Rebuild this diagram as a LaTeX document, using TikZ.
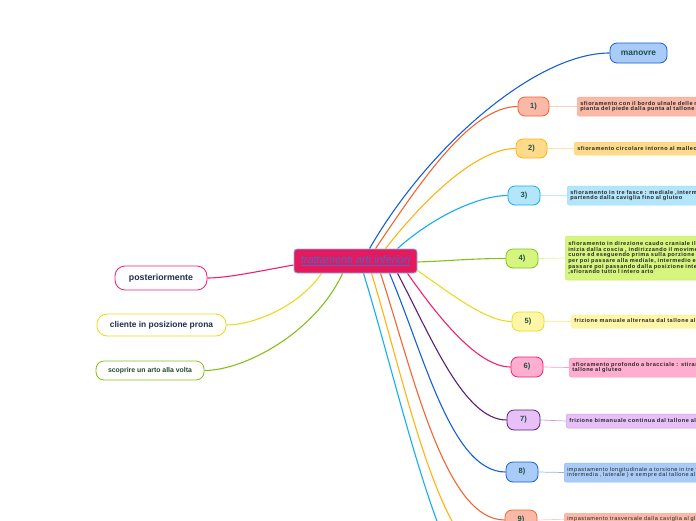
\documentclass[tikz,border=0pt]{standalone}
\usepackage{fontspec}
\setmainfont{Liberation Sans}
\newfontfamily\detfont[LetterSpace=9]{Liberation Sans}
\usetikzlibrary{backgrounds}
\definecolor{cfill}{HTML}{E5195E}
\definecolor{cbord}{HTML}{7FB2E5}
\definecolor{ctext}{HTML}{4668CC}
\definecolor{numtxt}{HTML}{1B4F4A}
\definecolor{bOrange}{HTML}{F26430}
\definecolor{bGold}{HTML}{FFB310}
\definecolor{bCyan}{HTML}{12AEEF}
\definecolor{bLime}{HTML}{84C118}
\definecolor{bYellow}{HTML}{EED81E}
\definecolor{bPink}{HTML}{EE1F74}
\definecolor{bPurple}{HTML}{5A1F78}
\definecolor{bBlue}{HTML}{1560D4}
\definecolor{fSalmon}{HTML}{FAB8A6}
\definecolor{fGold}{HTML}{FFDA8A}
\definecolor{fCyan}{HTML}{B3E6FB}
\definecolor{fLime}{HTML}{D6F57E}
\definecolor{fYellow}{HTML}{FFF6A8}
\definecolor{fPink}{HTML}{FFAED0}
\definecolor{fPurple}{HTML}{E8C0F8}
\definecolor{fBlue}{HTML}{A8CBF8}
\definecolor{navy}{HTML}{1F2D50}
\definecolor{dgreen}{HTML}{1E4A2E}
\tikzset{
  numbox/.style={draw, line width=0.8pt, rounded corners=7pt, minimum width=32pt,
    minimum height=19pt, inner sep=0pt, text=numtxt,
    font=\fontsize{7.5}{8}\selectfont\bfseries},
  detbox/.style={draw, line width=0.5pt, rounded corners=2pt, anchor=west, align=left,
    inner xsep=3pt, inner ysep=1.2pt, text width=220pt, text=black!85,
    font=\detfont\fontsize{5.6}{5.6}\selectfont\bfseries},
  leftbox/.style={draw, fill=white, line width=0.8pt, rounded corners=10pt, inner sep=0pt,
    font=\fontsize{7.5}{8}\selectfont\bfseries, text=navy},
  branch/.style={line width=1.1pt, in=180, in looseness=0.6},
  twig/.style={line width=0.7pt},
}
\begin{document}
\begin{tikzpicture}[x=1pt,y=-1pt]
\useasboundingbox (0,0) rectangle (696,520);

% central
\node[draw=cbord, fill=cfill, line width=0.9pt, rounded corners=3pt, minimum width=123pt,
  minimum height=24pt, inner sep=0pt, font=\fontsize{11}{12}\selectfont\itshape, text=ctext]
  (c) at (355.5,261) {\underline{trattamenti arti inferiori}};

% left nodes
\node[leftbox, draw=bPink, minimum width=92pt, minimum height=24pt, font=\fontsize{8.8}{9}\selectfont\bfseries] (post) at (161,278) {posteriormente};
\node[leftbox, draw=bYellow, minimum width=129pt, minimum height=22pt, font=\fontsize{8.4}{9}\selectfont\bfseries] (prona) at (161.5,325) {cliente in posizione prona};
\node[leftbox, draw=bLime, minimum width=108pt, minimum height=19pt, rounded corners=8pt, text=dgreen,
  font=\fontsize{6.9}{7}\selectfont\bfseries] (scop) at (150,370.5) {scoprire un arto alla volta};

% right nodes
\node[numbox, draw=bBlue, fill=fBlue, minimum width=57pt, minimum height=20pt, font=\fontsize{8.4}{9}\selectfont\bfseries] (man) at (638.5,53) {manovre};
\node[numbox, draw=bOrange, fill=fSalmon, minimum width=31pt] (n1) at (533.5,106.5) {1)};
\node[numbox, draw=bGold, fill=fGold, minimum width=31pt] (n2) at (531.5,148.5) {2)};
\node[numbox, draw=bCyan, fill=fCyan] (n3) at (524,195.5) {3)};
\node[numbox, draw=bLime, fill=fLime] (n4) at (522,258.5) {4)};
\node[numbox, draw=bYellow, fill=fYellow] (n5) at (528,321.5) {5)};
\node[numbox, draw=bPink, fill=fPink, minimum height=20pt] (n6) at (527,367) {6)};
\node[numbox, draw=bPurple, fill=fPurple, minimum width=33pt, minimum height=20pt] (n7) at (523.5,420) {7)};
\node[numbox, draw=bBlue, fill=fBlue, minimum height=20pt] (n8) at (522,472) {8)};
\node[numbox, draw=bOrange, fill=fSalmon, minimum height=20pt] (n9) at (521,520) {9)};
\coordinate (n10) at (505,568);
\coordinate (n11) at (505,616);

% detail boxes
\node[detbox, draw=fSalmon!85!bOrange, fill=fSalmon, minimum height=19pt] (d1) at (577,106.5)
  {sfioramento con il bordo ulnale delle mani\\pianta del piede dalla punta al tallone};
\node[detbox, draw=fGold!85!bGold, fill=fGold, minimum height=13pt] (d2) at (574,148.5)
  {sfioramento circolare intorno al malleoli};
\node[detbox, draw=fCyan!85!bCyan, fill=fCyan, minimum height=19pt] (d3) at (567,195.5)
  {sfioramento in tre fasce : mediale ,intermedia\\partendo dalla caviglia fino al gluteo};
\node[detbox, draw=fLime!85!bLime, fill=fLime, minimum height=44pt] (d4) at (565,258)
  {sfioramento in direzione caudo craniale il\\inizia dalla coscia , indirizzando il movimento\\cuore ed eseguendo prima sulla porzione\\per poi passare alla mediale, intermedio e\\passare poi passando dalla posizione interna\\,sfiorando tutto l intero arto};
\node[detbox, draw=fYellow!85!bYellow, fill=fYellow, minimum height=13pt] (d5) at (571,321.5)
  {frizione manuale alternata dal tallone al gluteo};
\node[detbox, draw=fPink!85!bPink, fill=fPink, minimum height=19pt] (d6) at (569,367.5)
  {sfioramento profondo a bracciale : stirando\\tallone al gluteo};
\node[detbox, draw=fPurple!80!bPurple, fill=fPurple, minimum height=14pt] (d7) at (566,421)
  {frizione bimanuale continua dal tallone al gluteo};
\node[detbox, draw=fBlue!85!bBlue, fill=fBlue, minimum height=19pt, font=\detfont\fontsize{5.6}{5.6}\selectfont] (d8) at (564,472.5)
  {impastamento longitudinale a torsione in tre fasce\\intermedia , laterale ) e sempre dal tallone al gluteo};
\node[detbox, draw=fSalmon!85!bOrange, fill=fSalmon, minimum height=12pt, anchor=north west, font=\detfont\fontsize{5.6}{5.6}\selectfont] (d9) at (564,513)
  {impastamento trasversale dalla caviglia al gluteo};

\begin{scope}[on background layer]
  % upper branches
  \draw[branch, draw=bBlue, out=60] ([xshift=76pt]c.north west) to (man.west);
  \draw[branch, draw=bOrange, out=56] ([xshift=82pt]c.north west) to (n1.west);
  \draw[branch, draw=bGold, out=52] ([xshift=92pt]c.north west) to (n2.west);
  \draw[branch, draw=bCyan, out=42] ([xshift=104pt]c.north west) to (n3.west);
  \draw[branch, draw=bLime, out=2, in looseness=1] ([yshift=-1pt]c.east) to (n4.west);
  % lower branches
  \draw[branch, draw=bYellow, out=-35] ([yshift=3pt]c.south east) to (n5.west);
  \draw[branch, draw=bPink, out=-55] ([xshift=114pt]c.south west) to (n6.west);
  \draw[branch, draw=bPurple, out=-62] ([xshift=104pt]c.south west) to (n7.west);
  \draw[branch, draw=bBlue, out=-67] ([xshift=96pt]c.south west) to (n8.west);
  \draw[branch, draw=bOrange, out=-72, in looseness=0.55] ([xshift=87pt]c.south west) to (n9.west);
  \draw[branch, draw=bGold, out=-73, in looseness=0.5] ([xshift=78pt]c.south west) to (n10);
  \draw[branch, draw=bCyan, out=-73, in looseness=0.4] ([xshift=70pt]c.south west) to (n11);
  % left branches
  \draw[branch, draw=bPink, out=190, in=0] ([yshift=-4pt]c.west) to (post.east);
  \draw[branch, draw=bYellow, out=-125, in=0] ([xshift=28pt]c.south west) to (prona.east);
  \draw[branch, draw=bLime, out=-115, in=0] ([xshift=49pt]c.south west) to (scop.east);
  % twigs
  \draw[twig, draw=fSalmon!70] (n1.east) -- (d1.west);
  \draw[twig, draw=fGold!70] (n2.east) -- (d2.west);
  \draw[twig, draw=fCyan!80] (n3.east) -- (d3.west);
  \draw[twig, draw=fLime!80] (n4.east) -- (d4.west);
  \draw[twig, draw=fYellow!90!bYellow] (n5.east) -- (d5.west);
  \draw[twig, draw=fPink!90!bPink] (n6.east) -- (d6.west);
  \draw[twig, draw=fPurple!80!bPurple] (n7.east) -- (d7.west);
  \draw[twig, draw=fBlue!80!bBlue] (n8.east) -- (d8.west);
  \draw[twig, draw=fSalmon!70] (n9.east) -- (d9.west);
\end{scope}
\end{tikzpicture}
\end{document}
